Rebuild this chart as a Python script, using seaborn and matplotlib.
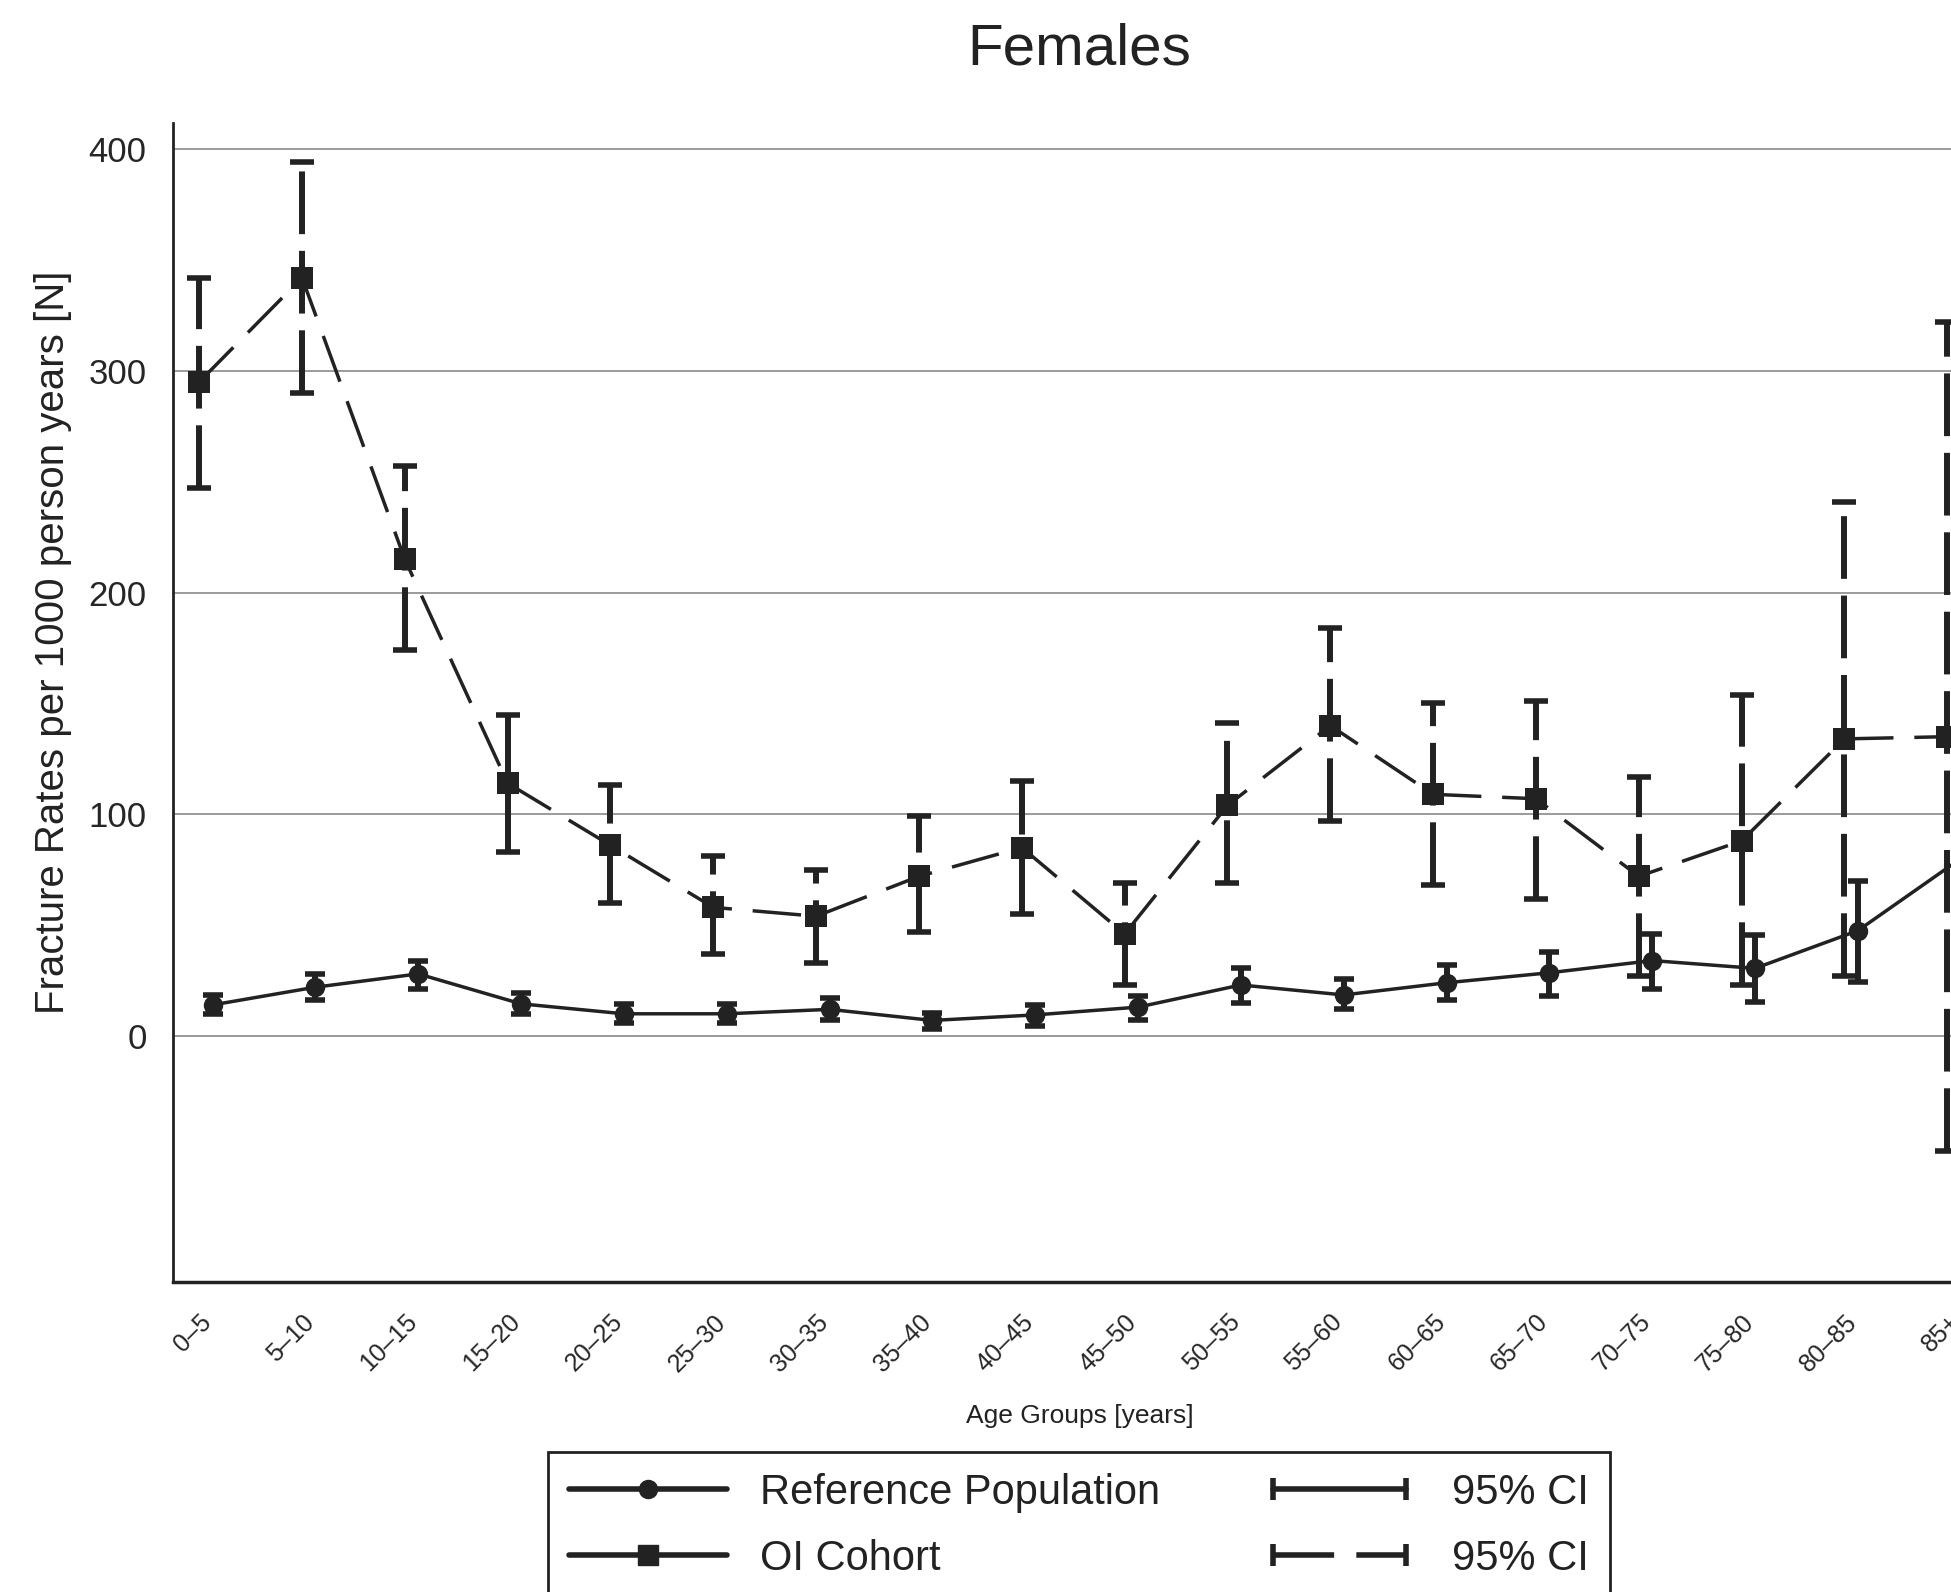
import numpy as np
import pandas as pd
import matplotlib
matplotlib.use("Agg")
import matplotlib.pyplot as plt
from matplotlib.lines import Line2D
from matplotlib.legend_handler import HandlerLine2D
import seaborn as sns

# ----------------------------------------------
# DATA
# ----------------------------------------------
age_groups = ["0–5", "5–10", "10–15", "15–20", "20–25", "25–30", "30–35",
              "35–40", "40–45", "45–50", "50–55", "55–60", "60–65", "65–70",
              "70–75", "75–80", "80–85", "85+"]

oi_rate = [295, 342, 215, 114, 86, 58, 54, 72, 85, 46, 104, 140, 109, 107, 72, 88, 134, 135]
oi_low  = [247, 290, 174, 83, 60, 37, 33, 47, 55, 23, 69, 97, 68, 62, 27, 23, 27, -52]
oi_high = [342, 394, 257, 145, 113, 81, 75, 99, 115, 69, 141, 184, 150, 151, 117, 154, 241, 322]

ref_rate = [14, 22, 28, 14.5, 10, 10, 12, 7, 9.5, 13, 23, 18.5, 24, 28.5, 34, 30.5, 47.5, 80]
ref_low  = [10, 16, 21, 10, 6, 6, 7, 3, 4.5, 7, 15, 12, 16, 18, 21, 15.5, 24.5, 45]
ref_high = [18.5, 28, 34, 19.5, 14.5, 14.5, 17, 10.5, 14, 18, 30.5, 25.5, 32, 38, 46, 45.5, 70, 111]

INK = "#222222"
REF_SHIFT = 0.13

sns.set_style("white")
plt.rcParams["font.family"] = ["Liberation Sans", "DejaVu Sans"]

pos = np.arange(len(age_groups))
oi = pd.DataFrame({"x": pos, "rate": oi_rate, "low": oi_low, "high": oi_high})
ref = pd.DataFrame({"x": pos + REF_SHIFT, "rate": ref_rate, "low": ref_low, "high": ref_high})

fig = plt.figure(figsize=(19.51, 15.92), dpi=100)
ax = fig.add_axes([0.0887, 0.1947, 1 - 0.0887, 0.923 - 0.1947])

ax.yaxis.grid(True, color="#8a8a8a", linewidth=1.2)
ax.set_axisbelow(True)

# OI cohort: dashed line, squares, dashed CI bars
sns.lineplot(data=oi, x="x", y="rate", ax=ax, color=INK, linewidth=2.5,
             marker="s", markersize=16, markeredgewidth=0, zorder=4)
ax.lines[-1].set_linestyle((0, (14, 6)))
eb = ax.errorbar(oi["x"], oi["rate"],
                 yerr=[oi["rate"] - oi["low"], oi["high"] - oi["rate"]],
                 fmt="none", ecolor=INK, elinewidth=4.3, capsize=8.5, capthick=4, zorder=3)
eb[2][0].set_linestyle((0, (10.5, 2.8)))

# Reference population: solid line, circles, solid CI bars
sns.lineplot(data=ref, x="x", y="rate", ax=ax, color=INK, linewidth=2.5,
             marker="o", markersize=14, markeredgewidth=0, zorder=4)
ax.errorbar(ref["x"], ref["rate"],
            yerr=[ref["rate"] - ref["low"], ref["high"] - ref["rate"]],
            fmt="none", ecolor=INK, elinewidth=4.3, capsize=7.5, capthick=4, zorder=3)

ax.set_xlim(-0.254, 17.036)
ax.set_ylim(-111, 412)
ax.set_yticks([0, 100, 200, 300, 400])
ax.set_xticks(pos)
ax.set_xticklabels(age_groups, rotation=45, ha="right", rotation_mode="anchor",
                   fontsize=18)
ax.tick_params(axis="y", labelsize=25, length=13, width=1.5, color=INK, pad=6)
ax.tick_params(axis="x", length=12, width=1.5, color=INK, pad=8)

for side in ["top", "right"]:
    ax.spines[side].set_visible(False)
ax.spines["left"].set_color(INK)
ax.spines["left"].set_linewidth(2)
ax.spines["bottom"].set_color(INK)
ax.spines["bottom"].set_linewidth(2.5)

ax.set_ylabel("Fracture Rates per 1000 person years [N]", fontsize=29, color=INK)
ax.yaxis.set_label_coords(-0.057, 0.552)
ax.set_xlabel("Age Groups [years]", fontsize=19, color=INK)
ax.xaxis.set_label_coords(0.51, -0.105)

fig.suptitle("Females", x=0.553, y=0.969, va="center", fontsize=42, color=INK)

# legend
h_ref = Line2D([], [], color=INK, lw=4, marker="o", markersize=13)
h_oi = Line2D([], [], color=INK, lw=4, marker="s", markersize=14)
h_ci = Line2D([], [], color=INK, lw=4, marker="|", markersize=16, markeredgewidth=4)
h_ci_d = Line2D([], [], color=INK, lw=4, ls=(0, (11, 4)), marker="|",
                markersize=16, markeredgewidth=4)
leg = fig.legend([h_ref, h_oi, h_ci, h_ci_d],
                 ["Reference Population", "OI Cohort", "95% CI", "95% CI"],
                 ncol=2, loc="upper center", bbox_to_anchor=(0.553, 0.088),
                 fontsize=30, numpoints=1,
                 handler_map={h_ci: HandlerLine2D(numpoints=2),
                              h_ci_d: HandlerLine2D(numpoints=2)},
                 handlelength=3.8, handletextpad=0.8, columnspacing=2.4,
                 labelspacing=0.63, borderpad=0.5, borderaxespad=0,
                 fancybox=False, framealpha=1)
leg.get_frame().set_edgecolor(INK)
leg.get_frame().set_linewidth(2)
for t in leg.get_texts():
    t.set_color(INK)

fig.savefig("out.png", dpi=100)
